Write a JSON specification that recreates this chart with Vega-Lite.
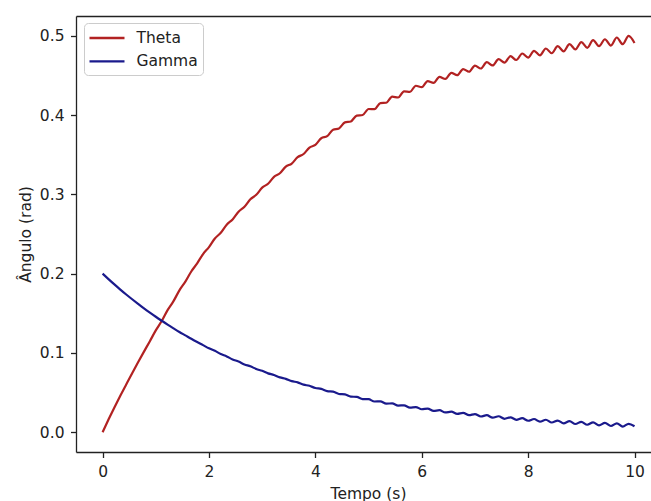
{
  "$schema": "https://vega.github.io/schema/vega-lite/v6.json",
  "width": 575,
  "height": 436,
  "autosize": {"type": "none"},
  "padding": {"left": 76, "top": 16, "right": 0, "bottom": 49},
  "background": "white",
  "config": {
    "view": {"stroke": null},
    "font": "DejaVu Sans",
    "axis": {
      "domainColor": "#222222", "domainWidth": 1.3,
      "tickColor": "#222222", "tickWidth": 1.3, "tickSize": 5.5,
      "labelFont": "DejaVu Sans", "labelFontSize": 15.5, "labelColor": "#222222", "labelPadding": 6.5,
      "titleFont": "DejaVu Sans", "titleFontSize": 15.5, "titleFontWeight": "normal", "titleColor": "#222222",
      "grid": false
    }
  },
  "data": {"values": [
    {"t":0,"Theta":0,"Gamma":0.2},
    {"t":0.111,"Theta":0.0159,"Gamma":0.1931},
    {"t":0.222,"Theta":0.0312,"Gamma":0.1864},
    {"t":0.333,"Theta":0.0460,"Gamma":0.1799},
    {"t":0.444,"Theta":0.0602,"Gamma":0.1737},
    {"t":0.556,"Theta":0.0744,"Gamma":0.1677},
    {"t":0.667,"Theta":0.0881,"Gamma":0.1619},
    {"t":0.778,"Theta":0.1016,"Gamma":0.1562},
    {"t":0.889,"Theta":0.1148,"Gamma":0.1508},
    {"t":1,"Theta":0.1284,"Gamma":0.1456},
    {"t":1.111,"Theta":0.1402,"Gamma":0.1406},
    {"t":1.222,"Theta":0.1540,"Gamma":0.1357},
    {"t":1.333,"Theta":0.1653,"Gamma":0.1310},
    {"t":1.444,"Theta":0.1789,"Gamma":0.1264},
    {"t":1.556,"Theta":0.1899,"Gamma":0.1221},
    {"t":1.667,"Theta":0.2027,"Gamma":0.1178},
    {"t":1.778,"Theta":0.2130,"Gamma":0.1137},
    {"t":1.889,"Theta":0.2247,"Gamma":0.1098},
    {"t":2,"Theta":0.2335,"Gamma":0.1058},
    {"t":2.111,"Theta":0.2444,"Gamma":0.1026},
    {"t":2.222,"Theta":0.2516,"Gamma":0.0985},
    {"t":2.333,"Theta":0.2618,"Gamma":0.0956},
    {"t":2.444,"Theta":0.2684,"Gamma":0.0918},
    {"t":2.556,"Theta":0.2782,"Gamma":0.0891},
    {"t":2.667,"Theta":0.2843,"Gamma":0.0855},
    {"t":2.778,"Theta":0.2938,"Gamma":0.0831},
    {"t":2.889,"Theta":0.2994,"Gamma":0.0797},
    {"t":3,"Theta":0.3085,"Gamma":0.0774},
    {"t":3.111,"Theta":0.3134,"Gamma":0.0742},
    {"t":3.222,"Theta":0.3221,"Gamma":0.0722},
    {"t":3.333,"Theta":0.3266,"Gamma":0.0691},
    {"t":3.444,"Theta":0.3349,"Gamma":0.0673},
    {"t":3.556,"Theta":0.3389,"Gamma":0.0644},
    {"t":3.667,"Theta":0.3469,"Gamma":0.0628},
    {"t":3.778,"Theta":0.3509,"Gamma":0.0600},
    {"t":3.889,"Theta":0.3591,"Gamma":0.0585},
    {"t":4,"Theta":0.3624,"Gamma":0.0557},
    {"t":4.111,"Theta":0.3708,"Gamma":0.0547},
    {"t":4.222,"Theta":0.3734,"Gamma":0.0518},
    {"t":4.333,"Theta":0.3816,"Gamma":0.0511},
    {"t":4.444,"Theta":0.3832,"Gamma":0.0482},
    {"t":4.556,"Theta":0.3908,"Gamma":0.0476},
    {"t":4.667,"Theta":0.3920,"Gamma":0.0449},
    {"t":4.778,"Theta":0.3994,"Gamma":0.0445},
    {"t":4.889,"Theta":0.4001,"Gamma":0.0418},
    {"t":5,"Theta":0.4077,"Gamma":0.0416},
    {"t":5.111,"Theta":0.4075,"Gamma":0.0387},
    {"t":5.222,"Theta":0.4152,"Gamma":0.0389},
    {"t":5.333,"Theta":0.4156,"Gamma":0.0360},
    {"t":5.444,"Theta":0.4233,"Gamma":0.0363},
    {"t":5.556,"Theta":0.4222,"Gamma":0.0335},
    {"t":5.667,"Theta":0.4299,"Gamma":0.0339},
    {"t":5.778,"Theta":0.4294,"Gamma":0.0311},
    {"t":5.889,"Theta":0.4370,"Gamma":0.0317},
    {"t":6,"Theta":0.4352,"Gamma":0.0289},
    {"t":6.111,"Theta":0.4428,"Gamma":0.0297},
    {"t":6.222,"Theta":0.4406,"Gamma":0.0268},
    {"t":6.333,"Theta":0.4482,"Gamma":0.0277},
    {"t":6.444,"Theta":0.4456,"Gamma":0.0249},
    {"t":6.556,"Theta":0.4533,"Gamma":0.0259},
    {"t":6.667,"Theta":0.4503,"Gamma":0.0231},
    {"t":6.778,"Theta":0.4581,"Gamma":0.0243},
    {"t":6.889,"Theta":0.4547,"Gamma":0.0214},
    {"t":7,"Theta":0.4625,"Gamma":0.0228},
    {"t":7.111,"Theta":0.4588,"Gamma":0.0198},
    {"t":7.222,"Theta":0.4667,"Gamma":0.0214},
    {"t":7.333,"Theta":0.4626,"Gamma":0.0183},
    {"t":7.444,"Theta":0.4706,"Gamma":0.0201},
    {"t":7.556,"Theta":0.4662,"Gamma":0.0169},
    {"t":7.667,"Theta":0.4743,"Gamma":0.0188},
    {"t":7.778,"Theta":0.4695,"Gamma":0.0156},
    {"t":7.889,"Theta":0.4777,"Gamma":0.0177},
    {"t":8,"Theta":0.4725,"Gamma":0.0144},
    {"t":8.111,"Theta":0.4810,"Gamma":0.0166},
    {"t":8.222,"Theta":0.4754,"Gamma":0.0133},
    {"t":8.333,"Theta":0.4840,"Gamma":0.0157},
    {"t":8.444,"Theta":0.4780,"Gamma":0.0122},
    {"t":8.556,"Theta":0.4869,"Gamma":0.0147},
    {"t":8.667,"Theta":0.4805,"Gamma":0.0112},
    {"t":8.778,"Theta":0.4896,"Gamma":0.0139},
    {"t":8.889,"Theta":0.4828,"Gamma":0.0103},
    {"t":9,"Theta":0.4921,"Gamma":0.0131},
    {"t":9.111,"Theta":0.4849,"Gamma":0.0094},
    {"t":9.222,"Theta":0.4945,"Gamma":0.0124},
    {"t":9.333,"Theta":0.4869,"Gamma":0.0086},
    {"t":9.444,"Theta":0.4957,"Gamma":0.0118},
    {"t":9.556,"Theta":0.4877,"Gamma":0.0078},
    {"t":9.667,"Theta":0.4979,"Gamma":0.0112},
    {"t":9.778,"Theta":0.4894,"Gamma":0.0071},
    {"t":9.889,"Theta":0.4999,"Gamma":0.0106},
    {"t":10,"Theta":0.4910,"Gamma":0.0075}
  ]},
  "transform": [{"fold": ["Theta", "Gamma"], "as": ["serie", "valor"]}],
  "encoding": {
    "y": {
      "field": "valor", "type": "quantitative",
      "scale": {"domain": [-0.025, 0.525], "nice": false, "zero": false},
      "axis": {
        "values": [0, 0.1, 0.2, 0.3, 0.4, 0.5], "format": ".1f",
        "title": "Ângulo (rad)", "titleAngle": 270, "titleX": -45.5, "titleY": 218,
        "titleBaseline": "alphabetic", "titleAlign": "center"
      }
    },
    "color": {
      "field": "serie", "type": "nominal",
      "scale": {"domain": ["Theta", "Gamma"], "range": ["#b22222", "#1a1a8c"]},
      "legend": {
        "title": null, "orient": "none", "legendX": 8, "legendY": 7,
        "symbolType": "M-2,0H2", "symbolSize": 306, "symbolStrokeWidth": 2.4, "symbolOffset": 8,
        "labelFont": "DejaVu Sans", "labelFontSize": 15.5, "labelColor": "#222222", "labelOffset": 19.5,
        "rowPadding": 4.4, "padding": 5,
        "strokeColor": "#cccccc", "fillColor": "rgba(255,255,255,0.8)", "cornerRadius": 4
      }
    }
  },
  "layer": [
    {
      "transform": [{"filter": "datum.serie === 'Theta'"}],
      "mark": {"type": "line", "interpolate": "monotone", "strokeWidth": 2.2},
      "encoding": {
        "x": {
          "field": "t", "type": "quantitative",
          "scale": {"domain": [-0.5, 10.31], "nice": false, "zero": false},
          "axis": {"orient": "bottom", "values": [0, 2, 4, 6, 8, 10], "format": "d",
                   "title": "Tempo (s)", "titleX": 292, "titleY": 46, "titleBaseline": "alphabetic"}
        }
      }
    },
    {
      "transform": [{"filter": "datum.serie === 'Gamma'"}],
      "mark": {"type": "line", "interpolate": "monotone", "strokeWidth": 2.2},
      "encoding": {
        "x": {
          "field": "t", "type": "quantitative",
          "scale": {"domain": [-0.5, 10.31], "nice": false, "zero": false},
          "axis": {"orient": "top", "labels": false, "ticks": false, "title": null}
        }
      }
    }
  ],
  "resolve": {"axis": {"x": "independent"}}
}
